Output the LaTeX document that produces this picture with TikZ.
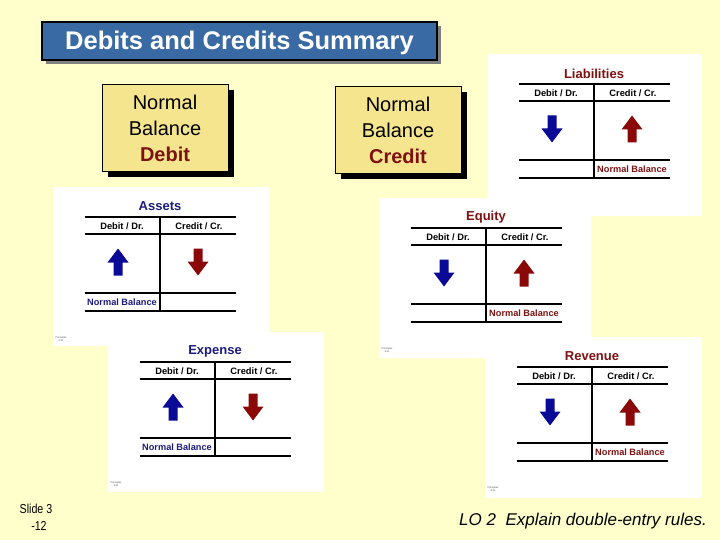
\documentclass[tikz,border=0pt]{standalone}
\usepackage{fontspec}
\setmainfont{Liberation Sans}
\newfontfamily\narrowsans[FakeStretch=0.82]{Liberation Sans}
\definecolor{bg}{HTML}{FFFFCC}
\definecolor{ttlfill}{HTML}{3A6AA3}
\definecolor{boxfill}{HTML}{F5E58E}
\definecolor{dred}{HTML}{7E1111}
\definecolor{navy}{HTML}{1C1C7E}
\definecolor{arrblue}{HTML}{0A0A96}
\definecolor{arrred}{HTML}{8A0808}
\tikzset{
  panel/.style={fill=white},
  tline/.style={line width=2.2pt},
  acctttl/.style={font=\fontsize{13}{15}\selectfont\bfseries, inner sep=0pt},
  hdr/.style={font=\fontsize{9.3}{10}\selectfont\bfseries, inner sep=0pt},
  nbtxt/.style={font=\fontsize{9.2}{10}\selectfont\bfseries, inner sep=0pt},
  tiny/.style={font=\fontsize{2.5}{3}\selectfont, text=black!70, align=center, inner sep=0pt},
  nbbox/.style={draw=black, line width=0.8pt, fill=boxfill, minimum width=126pt, minimum height=87pt, align=center, font=\fontsize{20}{26}\selectfont, inner sep=0pt},
}
% up arrow at (#1,#2), colour #3
\newcommand\uparrowshape[3]{%
  \fill[#3] (#1-4.5,#2+13.5) -- (#1+4.5,#2+13.5) -- (#1+4.5,#2+0.5) -- (#1+10.5,#2+0.5) -- (#1,#2-13.5) -- (#1-10.5,#2+0.5) -- (#1-4.5,#2+0.5) -- cycle;}
\newcommand\downarrowshape[3]{%
  \fill[#3] (#1-4.5,#2-13.5) -- (#1+4.5,#2-13.5) -- (#1+4.5,#2-0.5) -- (#1+10.5,#2-0.5) -- (#1,#2+13.5) -- (#1-10.5,#2-0.5) -- (#1-4.5,#2-0.5) -- cycle;}
% #1 name, #2 x, #3 y, #4 width, #5 height, #6 title, #7 colour, #8 1 = debit side normal, 0 = credit side
\newcommand\tacct[8]{%
\begin{scope}[shift={(#2,#3)}]
  \fill[panel] (0,0) rectangle (#4,#5);
  \node[acctttl, text=#7] (#1-title) at (107,19.5) {#6};
  \draw[tline] (32,30) -- (183,30);
  \draw[tline] (32,47) -- (183,47);
  \draw[tline] (32,106) -- (183,106);
  \draw[tline] (32,124) -- (183,124);
  \draw[line width=2.6pt] (107,29) -- (107,125);
  \node[hdr] (#1-dr) at (69,39) {Debit / Dr.};
  \node[hdr] (#1-cr) at (146,39) {Credit / Cr.};
  \ifnum#8=1
    \uparrowshape{65}{75}{arrblue}
    \downarrowshape{145}{75}{arrred}
    \node[nbtxt, text=#7] (#1-nb) at (69,115) {Normal Balance};
  \else
    \downarrowshape{65}{75}{arrblue}
    \uparrowshape{145}{75}{arrred}
    \node[nbtxt, text=#7] (#1-nb) at (145,115) {Normal Balance};
  \fi
  \node[tiny] (#1-src) at (8,152) {Principles\\3-31};
\end{scope}}
\begin{document}
\begin{tikzpicture}[x=1pt,y=-1pt]
\fill[bg] (0,0) rectangle (720,540);
\useasboundingbox (0,0) rectangle (720,540);
% panels
\tacct{liab}{487}{54}{215}{162}{Liabilities}{dred}{0}
\tacct{asset}{53}{187}{216}{159}{Assets}{navy}{1}
\tacct{equity}{379}{198}{212}{160}{Equity}{dred}{0}
\tacct{expense}{108}{332}{216}{160}{Expense}{navy}{1}
\tacct{revenue}{485}{337}{217}{161}{Revenue}{dred}{0}
% title
\fill[black!50] (46,26) rectangle (441,64);
\node[draw=black, line width=1.2pt, fill=ttlfill, minimum width=395pt, minimum height=38pt, inner sep=0pt] (titlebox) at (239.5,41) {};
\node[text=white, font=\fontsize{25.5}{28}\selectfont\bfseries, inner sep=0pt] (title) at (239.5,43) {Debits and Credits Summary};
% normal balance boxes
\fill[black] (108,90) rectangle ++(126,87);
\node[nbbox] (nbdebit) at (165,128) {Normal\\Balance\\{\color{dred}\bfseries Debit}};
\fill[black] (341,92) rectangle ++(126,87);
\node[nbbox] (nbcredit) at (398,130) {Normal\\Balance\\{\color{dred}\bfseries Credit}};
% footer
\node[font=\narrowsans\fontsize{13}{17}\selectfont, align=center, inner sep=0pt] (slide) at (36,517) {Slide 3\\\ \ -12};
\node[font=\fontsize{17}{20}\selectfont\itshape, anchor=east, inner sep=0pt] (lo) at (707,521) {LO 2\ \ Explain double-entry rules.};
\end{tikzpicture}
\end{document}
